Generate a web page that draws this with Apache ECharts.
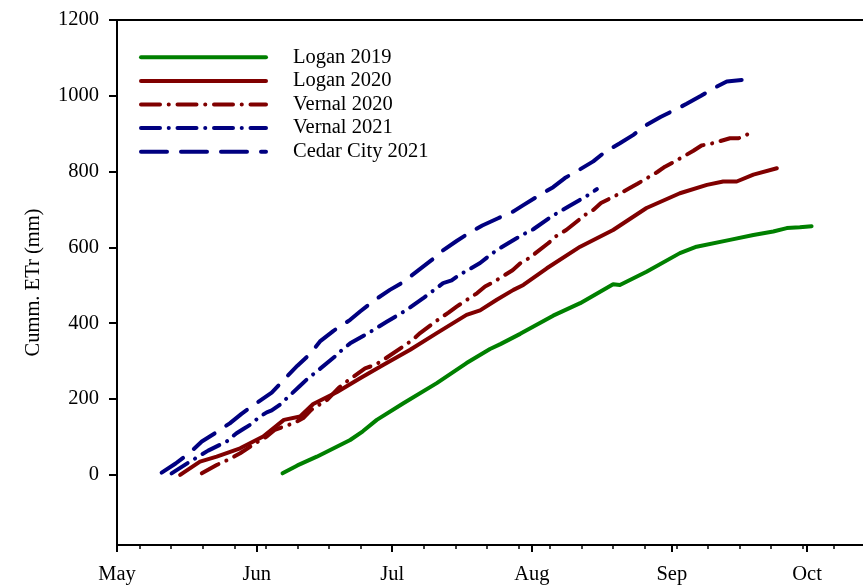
<!DOCTYPE html>
<html>
<head>
<meta charset="utf-8">
<script src="https://cdn.jsdelivr.net/npm/echarts@6/dist/echarts.min.js"></script>
<style>html,body{margin:0;padding:0;background:#fff}#c{width:863px;height:588px}</style>
</head>
<body>
<div id="c"></div>
<script>
// x = days since May 1
const monthTicks = [0, 31, 61, 92, 123, 153];
const monthLabels = ['May', 'Jun', 'Jul', 'Aug', 'Sep', 'Oct'];
const weekTicks = [5, 12, 19, 26, 33, 40, 47, 54, 61, 68, 75, 82, 89, 96, 103, 110, 117, 124, 131, 138, 145, 152, 159];
const yTicks = [0, 200, 400, 600, 800, 1000, 1200];

const logan2019 = [[36.7,4],[40,25],[44.3,48],[51.7,92],[54.5,115],[57.6,145],[63.5,189],[70.9,242],[77.5,295],[82.7,332],[85,345],[89.4,372],[96.7,420],[102.7,453],[110,503],[111.5,501],[117.4,536],[124.8,585],[128.5,602],[135.9,620],[141.1,633],[145.5,642],[148.5,651],[151.4,653],[154,656]];
const logan2020 = [[14,0],[18.4,35],[22.1,48],[27.3,70],[32.4,101],[37,145],[40.6,154],[43.5,187],[48.7,218],[53.9,255],[59,290],[65,330],[70.9,374],[77.5,422],[80.5,434],[84.2,462],[87.9,488],[90.1,501],[95.3,545],[102.7,602],[110,646],[117.4,704],[124.8,743],[130.8,765],[134.4,774],[137.4,774],[141.1,792],[146.3,809]];
const vernal2020 = [[18.8,4],[22.1,26],[25,42],[27.3,57],[31.3,88],[33.2,101],[35,119],[39.5,138],[41.3,150],[43,171],[46.6,198],[49.1,229],[50.9,246],[55,281],[57.2,290],[59,303],[63.5,339],[65.3,354],[67.2,374],[71.6,413],[73.5,428],[75.3,444],[79.8,479],[81.6,497],[83.4,508],[87.7,540],[89.5,559],[91.4,572],[95.6,611],[97.5,631],[99.6,646],[103.8,686],[105.6,699],[107.3,717],[111.9,745],[113.6,756],[115.4,768],[119.8,799],[121.5,813],[123.4,825],[127.8,855],[129.6,869],[131.5,873],[135.9,888],[137.8,888],[139.6,897],[141.2,908]];
const vernal2021 = [[12.1,4],[16.2,35],[20.2,64],[24.3,88],[26.5,110],[28,121],[29.5,132],[31.7,154],[33.2,165],[34.3,170],[36.1,185],[40.6,235],[42.2,253],[44.3,273],[48.3,312],[50.2,333],[51.7,347],[55.7,374],[57.9,390],[59.8,404],[64.2,435],[66.1,451],[67.9,466],[72.3,506],[74.2,513],[76,528],[80.5,559],[82.3,576],[84.3,594],[88.4,623],[90.5,637],[92.3,648],[96.4,682],[98.2,695],[100.1,708],[104.9,741],[106.4,754]];
const cedar2021 = [[9.9,6],[13,30],[16.2,59],[18.8,88],[22,112],[25,136],[27.6,161],[31,190],[34.3,217],[37.4,256],[40,288],[42.8,319],[45,352],[48,380],[51.7,409],[53.9,431],[57,460],[60.5,488],[63.1,506],[66.5,537],[69.8,567],[72,590],[75.3,617],[78.6,642],[81,658],[84.5,677],[87.9,695],[90,711],[93.8,739],[96.7,759],[99.3,783],[102.5,805],[105.6,827],[108.2,852],[111.5,875],[114.5,897],[117.4,923],[120.5,944],[123.7,963],[126.3,979],[129.5,1000],[132.6,1022],[135.2,1038],[138.5,1042]];

const FONT = 'Liberation Serif';
const GREEN = '#008000', RED = '#800000', BLUE = '#000080';
const dashDot = [19, 8.7, 0.1, 8.7];
const longDash = [26, 14];
const X_MAX = 165.4;

function mk(name, data, color, type) {
  return {
    name, type: 'line', data, symbol: 'none', showSymbol: false, smooth: false,
    lineStyle: { color, width: 4, type, cap: 'round', join: 'round' },
    itemStyle: { color },
    emphasis: { disabled: true }
  };
}

const chart = echarts.init(document.getElementById('c'), null, { renderer: 'canvas' });
chart.setOption({
  animation: false,
  backgroundColor: '#fff',
  grid: { left: 117, top: 20, right: 0, bottom: 43, show: false, containLabel: false },
  legend: {
    orient: 'vertical', left: 139, top: 46.8, padding: 0,
    itemWidth: 125, itemHeight: 14, itemGap: 2.6,
    selectedMode: false,
    itemStyle: { opacity: 0 },
    lineStyle: { width: 4, cap: 'round' },
    textStyle: { fontFamily: FONT, fontSize: 20.5, color: '#000', padding: [0, 0, 0, 22] },
    data: ['Logan 2019', 'Logan 2020', 'Vernal 2020', 'Vernal 2021', 'Cedar City 2021']
  },
  xAxis: [{
    type: 'value', min: 0, max: X_MAX, position: 'bottom',
    axisLine: { show: true, onZero: false, lineStyle: { color: '#000', width: 2 } },
    axisTick: { show: true, customValues: monthTicks, length: 7, lineStyle: { color: '#000', width: 2 } },
    axisLabel: { show: true, customValues: monthTicks, margin: 19, fontFamily: FONT, fontSize: 20.5, color: '#000',
      formatter: v => monthLabels[monthTicks.indexOf(Math.round(v))] || '' },
    splitLine: { show: false }
  }, {
    type: 'value', min: 0, max: X_MAX, position: 'bottom', gridIndex: 0,
    axisLine: { show: false, onZero: false },
    axisTick: { show: true, customValues: weekTicks, length: 4, lineStyle: { color: '#000', width: 1.5 } },
    axisLabel: { show: false },
    splitLine: { show: false }
  }, {
    type: 'value', min: 0, max: X_MAX, position: 'top', gridIndex: 0,
    axisLine: { show: true, onZero: false, lineStyle: { color: '#000', width: 2 } },
    axisTick: { show: false },
    axisLabel: { show: false },
    splitLine: { show: false }
  }],
  yAxis: {
    type: 'value', min: -185, max: 1200,
    name: 'Cumm. ETr (mm)', nameLocation: 'middle', nameGap: 73,
    nameTextStyle: { fontFamily: FONT, fontSize: 20.5, color: '#000' },
    axisLine: { show: true, onZero: false, lineStyle: { color: '#000', width: 2 } },
    axisTick: { show: true, customValues: yTicks, length: 8, lineStyle: { color: '#000', width: 2 } },
    axisLabel: { show: true, customValues: yTicks, margin: 18, fontFamily: FONT, fontSize: 20.5, color: '#000',
      formatter: v => String(v) },
    splitLine: { show: false }
  },
  series: [
    mk('Logan 2019', logan2019, GREEN, 'solid'),
    mk('Logan 2020', logan2020, RED, 'solid'),
    mk('Vernal 2020', vernal2020, RED, dashDot),
    mk('Vernal 2021', vernal2021, BLUE, dashDot),
    mk('Cedar City 2021', cedar2021, BLUE, longDash)
  ]
});
</script>
</body>
</html>
